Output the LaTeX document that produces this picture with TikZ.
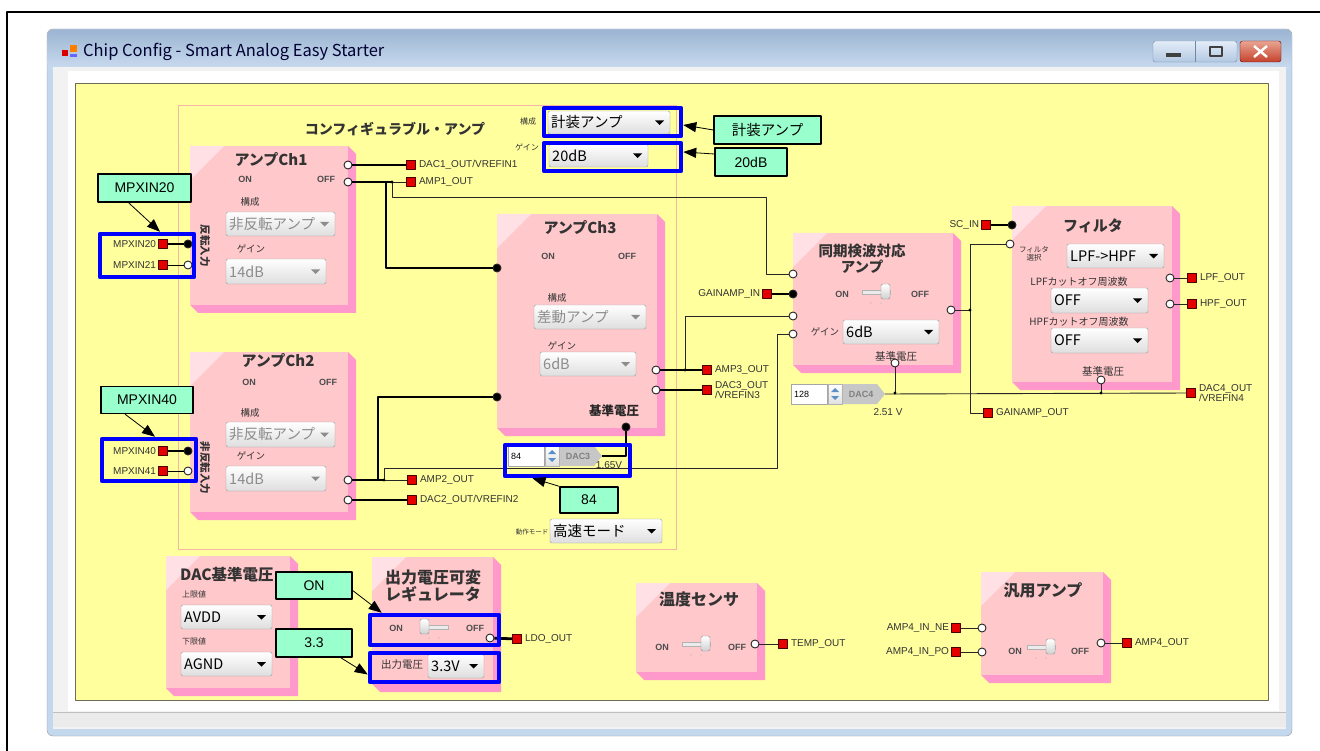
\documentclass[tikz,border=0pt]{standalone}
\usepackage{fontspec}
\setmainfont{Noto Sans CJK JP}
\newfontfamily\arial{Liberation Sans}
\usetikzlibrary{positioning,arrows.meta}
\definecolor{panel}{HTML}{FFFF9E}
\definecolor{panelline}{HTML}{6E6E55}
\definecolor{face}{HTML}{FFC8CB}
\definecolor{facehi}{HTML}{FFE0E5}
\definecolor{edge}{HTML}{FF99CC}
\definecolor{mint}{HTML}{99FFCC}
\definecolor{portred}{HTML}{E50000}
\definecolor{frame}{HTML}{C3D7ED}
\definecolor{tbtop}{HTML}{9CB5D2}
\definecolor{tbbot}{HTML}{CADCF0}
\definecolor{cfgline}{HTML}{F3B6A8}
\definecolor{btntop}{HTML}{E4EDF8}
\definecolor{btnbot}{HTML}{B3C8E2}
\definecolor{btnline}{HTML}{6F88AA}
\definecolor{cltop}{HTML}{E9A592}
\definecolor{clbot}{HTML}{C4412C}
\definecolor{spinblue}{HTML}{5B8FC9}
\newcommand{\fs}[1]{\fontsize{#1}{#1}\selectfont}
% bevelled block: x1 y1 x2 y2
\newcommand{\blok}[4]{%
  \fill[edge] (#3,#2) -- (#3+8,#2+8) -- (#3+8,#4+8) -- (#1+8,#4+8) -- (#1,#4) -- (#3,#4) -- cycle;
  \fill[face] (#1,#2) rectangle (#3,#4);
  \fill[facehi] (#1,#2) -- (#1+34,#2) -- (#1,#2+34) -- cycle;}
% drop-down: [text colour] x1 y1 x2 y2 text
\newcommand{\dd}[6][black]{%
  \shade[top color=white, bottom color=black!13, draw=black!40, rounded corners=2pt] (#2,#3) rectangle (#4,#5);
  \node[anchor=west, inner sep=0pt, text=#1, font=\fs{14.5}] at (#2+3,{(#3+#5)/2}) {#6};
  \fill[#1] (#4-15,{(#3+#5)/2-2}) -- ++(9,0) -- ++(-4.5,4.5) -- cycle;}
% spin box with DAC tag: x y value tag tipname
\newcommand{\spin}[5]{%
  \filldraw[fill=white, draw=black!35] (#1,#2) rectangle (#1+36,#2+20);
  \node[anchor=west, inner sep=0pt, font=\arial\fs{9}] at (#1+3,#2+10) {#3};
  \shade[top color=white, bottom color=black!12, draw=black!30] (#1+37,#2) rectangle (#1+51,#2+20);
  \fill[spinblue] (#1+40,#2+8) -- (#1+48,#2+8) -- (#1+44,#2+4) -- cycle (#1+40,#2+12) -- (#1+48,#2+12) -- (#1+44,#2+16) -- cycle;
  \fill[black!22] (#1+52,#2) -- (#1+86,#2) -- (#1+94,#2+10) -- (#1+86,#2+20) -- (#1+52,#2+20) -- cycle;
  \node[inner sep=0pt, font=\arial\bfseries\fs{9}, text=black!50] at (#1+70,#2+10) {#4};
  \coordinate (#5) at (#1+94,#2+10);}
% slide switch: x y knob (0 left, 1 right)
\newcommand{\swt}[3]{%
  \filldraw[fill=black!8, draw=black!30] (#1,#2-2) rectangle (#1+28,#2+2);
  \shade[top color=white, bottom color=black!18, draw=black!45, rounded corners=1.5pt] (#1+#3*19,#2-8) rectangle (#1+#3*19+9,#2+7);
  \fill[black!30] (#1+9,#2+11) circle (.7) (#1+19,#2+11) circle (.7);}
\begin{document}
\begin{tikzpicture}[x=1pt, y=-1pt, line join=round, >=stealth,
  term/.style={circle, draw=black!85, fill=white, line width=.9pt, inner sep=0pt, minimum size=8pt},
  termon/.style={term, fill=black},
  port/.style={rectangle, draw=red!30!black, fill=portred, line width=.6pt, inner sep=0pt, minimum size=9pt},
  lbl/.style={font=\arial\fs{10}, inner sep=0pt, text=black!80},
  wire/.style={draw=black!85, line width=.9pt},
  bus/.style={draw=black, line width=2.8pt},
  hilite/.style={draw=blue, line width=4.5pt, inner sep=0pt},
  tagbox/.style={draw, line width=1.3pt, fill=mint, font=\arial\fs{14}, inner sep=0pt},
  pointer/.style={line width=.8pt, -{Triangle[length=13pt,width=10pt]}},
  small/.style={font=\fs{9.5}, inner sep=0pt, text=black!80},
  blktitle/.style={font=\bfseries\fs{15}, inner sep=0pt, text=black!80},
  onoff/.style={font=\arial\bfseries\fs{9}, inner sep=0pt, text=black!70}]
\useasboundingbox (0,0) rectangle (1320,751);
\fill[white] (0,0) rectangle (1320,751);
\draw[line width=1.3pt] (7,751) -- (7,12) -- (1320,12);
% window
\filldraw[fill=frame, draw=black!40, rounded corners=6pt] (47,29) rectangle (1292,736);
\shade[top color=tbtop, bottom color=tbbot, rounded corners=6pt] (47.5,29.5) rectangle (1291.5,70);
\fill[black!5] (53,67) rectangle (1286,729);
\fill[white] (68,71) rectangle (1279,711);
\draw[black!25] (53,712) -- (1286,712);
\fill[black!8] (53,713) rectangle (1286,727);
\filldraw[fill=panel, draw=panelline, line width=1pt] (75,84) rectangle (1268,700);
\fill[red!85!black] (62,50) rectangle (68,56);
\fill[orange] (70,45) rectangle (77,52);
\fill[blue!60] (70,54) rectangle (77,57);
\node[anchor=west, inner sep=0pt, font=\fs{16.5}, text=black!80!blue] at (83,52) {Chip Config - Smart Analog Easy Starter};
\shade[top color=btntop, bottom color=btnbot, draw=btnline, rounded corners=2.5pt] (1153,41) rectangle (1237,62);
\draw[btnline] (1195,41) -- (1195,62);
\fill[black!75] (1166,53) rectangle (1181,57);
\draw[black!75, line width=1.3pt] (1210,47) rectangle (1222,56);
\shade[top color=cltop, bottom color=clbot, draw=red!40!black, rounded corners=2.5pt] (1240,41) rectangle (1281,62);
\draw[white, line width=2.4pt] (1254,46) -- (1267,57) (1254,57) -- (1267,46);
% configurable amp
\draw[cfgline, line width=1pt] (178,106) rectangle (676,549);
\node[blktitle, font=\bfseries\fs{14}] at (395,129) {コンフィギュラブル・アンプ};
\node[small, font=\fs{8}] at (528,121) {構成};
\dd{548}{111}{670}{134}{計装アンプ}
\node[small, font=\fs{8}] at (527,147) {ゲイン};
\dd{549}{144}{648}{167}{20dB}
\node[small, font=\fs{6.5}] at (532,532) {動作モード};
\dd{550}{519}{662}{543}{高速モード}
% blocks
\blok{190}{146}{348}{305}
\blok{190}{352}{348}{512}
\blok{497}{214}{657}{428}
\blok{793}{233}{953}{365}
\blok{1012}{206}{1172}{382}
\blok{166}{556}{290}{688}
\blok{372}{557}{493}{684}
\blok{636}{583}{757}{672}
\blok{981}{572}{1103}{675}
% Ch1
\node[blktitle] at (271,160) {アンプCh1};
\node[onoff] at (245,179) {ON};
\node[onoff] at (326,179) {OFF};
\node[small] at (250,202) {構成};
\dd[black!45]{226}{212}{335}{236}{非反転アンプ}
\node[small] at (251,249) {ゲイン};
\dd[black!45]{226}{259}{326}{284}{14dB}
\node[small, font=\bfseries\fs{10.5}, rotate=-90] at (205,246) {反転入力};
% Ch2
\node[blktitle] at (278,361) {アンプCh2};
\node[onoff] at (249,382) {ON};
\node[onoff] at (328,382) {OFF};
\node[small] at (250,413) {構成};
\dd[black!45]{226}{422}{335}{447}{非反転アンプ}
\node[small] at (251,456) {ゲイン};
\dd[black!45]{226}{466}{326}{491}{14dB}
\node[small, font=\bfseries\fs{10.5}, rotate=-90] at (205,468) {非反転入力};
% Ch3
\node[blktitle] at (580,228) {アンプCh3};
\node[onoff] at (548,256) {ON};
\node[onoff] at (627,256) {OFF};
\node[small] at (557,298) {構成};
\dd[black!45]{534}{305}{646}{329}{差動アンプ}
\node[small] at (562,346) {ゲイン};
\dd[black!45]{540}{352}{636}{376}{6dB}
\node[small, font=\bfseries\fs{12.5}, text=black!85] at (614,411) {基準電圧};
\spin{508}{446}{84}{DAC3}{d3tip}
\node[lbl] at (609,465) {1.65V};
% synchronous detection amp
\node[blktitle, font=\bfseries\fs{14.5}] at (862,251) {同期検波対応};
\node[blktitle, font=\bfseries\fs{14.5}] at (862,267) {アンプ};
\node[onoff] at (842,294) {ON};
\swt{862}{292}{1}
\node[onoff] at (920,294) {OFF};
\node[small] at (825,332) {ゲイン};
\dd{843}{320}{939}{344}{6dB}
\node[small, font=\fs{10.5}] at (896,356) {基準電圧};
\spin{791}{384}{128}{DAC4}{d4tip}
\node[lbl] at (888,412) {2.51 V};
% filter
\node[blktitle] at (1093,226) {フィルタ};
\node[small, font=\fs{7.5}, align=center] at (1034,254) {フィルタ\\選択};
\dd{1067}{244}{1164}{268}{LPF->HPF}
\node[small, font=\fs{10}] at (1079,282) {LPFカットオフ周波数};
\dd{1051}{288}{1148}{313}{OFF}
\node[small, font=\fs{10}] at (1079,322) {HPFカットオフ周波数};
\dd{1051}{328}{1148}{353}{OFF}
\node[small, font=\fs{10.5}] at (1103,371) {基準電圧};
% DAC reference
\node[blktitle, anchor=west, font=\bfseries\fs{15.5}] at (180,575) {DAC基準電圧};
\node[small, font=\fs{8}, anchor=west] at (182,594) {上限値};
\dd{181}{605}{272}{629}{AVDD}
\node[small, font=\fs{8}, anchor=west] at (182,641) {下限値};
\dd{181}{652}{272}{676}{AGND}
% regulator
\node[blktitle, font=\bfseries\fs{16}] at (433,577) {出力電圧可変};
\node[blktitle, font=\bfseries\fs{16}] at (433,594) {レギュレータ};
\node[onoff] at (396,628) {ON};
\swt{420}{627}{0}
\node[onoff] at (475,628) {OFF};
\node[small, font=\fs{10.5}] at (402,665) {出力電圧};
\dd{428}{654}{484}{678}{3.3V}
% temperature sensor
\node[blktitle, font=\bfseries\fs{16}] at (699,599) {温度センサ};
\node[onoff] at (662,647) {ON};
\swt{682}{644}{1}
\node[onoff] at (737,647) {OFF};
% general amp
\node[blktitle, font=\bfseries\fs{16}] at (1043,590) {汎用アンプ};
\node[onoff] at (1015,651) {ON};
\swt{1027}{647}{1}
\node[onoff] at (1080,651) {OFF};
% terminals and pins
\foreach \n/\y/\f/\lw in {20/244/black/2.8pt, 21/265/white/.9pt, 40/451/black/2.8pt, 41/471/white/.9pt}{
  \node[port] (pm\n) at (163,\y) {};
  \node[term, fill=\f] (tm\n) at (188,\y) {};
  \node[lbl, left=2pt of pm\n] {MPXIN\n};
  \draw[wire, draw=black, line width=\lw] (pm\n) -- (tm\n);}
\node[term] (c1a) at (348,165) {};
\node[term] (c1b) at (348,182) {};
\node[port] (pd1) at (411,165) {};
\node[port] (pa1) at (411,182) {};
\node[lbl, right=3pt of pd1] {DAC1\_OUT/VREFIN1};
\node[lbl, right=3pt of pa1] {AMP1\_OUT};
\node[term] (c2a) at (348,480) {};
\node[term] (c2b) at (348,500) {};
\node[port] (pa2) at (412,480) {};
\node[port] (pd2) at (412,500) {};
\node[lbl, right=3pt of pa2] {AMP2\_OUT};
\node[lbl, right=3pt of pd2] {DAC2\_OUT/VREFIN2};
\node[termon] (c3a) at (497,268) {};
\node[termon] (c3b) at (497,397) {};
\node[termon] (c3r) at (626,427) {};
\node[term] (c3o) at (656,370) {};
\node[term] (c3d) at (656,390) {};
\node[port] (pa3) at (707,370) {};
\node[port] (pd3) at (707,390) {};
\node[lbl, right=3pt of pa3] {AMP3\_OUT};
\node[lbl, right=3pt of pd3, align=left, font={\arial\fontsize{10}{8}\selectfont}] {DAC3\_OUT\\/VREFIN3};
\node[term] (s1) at (793,274) {};
\node[termon] (s2) at (793,294) {};
\node[term] (s3) at (793,316) {};
\node[term] (s4) at (793,334) {};
\node[port] (pgi) at (767,294) {};
\node[lbl, left=2pt of pgi] {GAINAMP\_IN};
\node[term] (so) at (951,310) {};
\node[term] (sr) at (895,363) {};
\node[termon] (fsc) at (1012,225) {};
\node[port] (psc) at (986,225) {};
\node[lbl, left=2pt of psc] {SC\_IN};
\node[term] (fi) at (1010,244) {};
\node[term] (fl) at (1170,278) {};
\node[term] (fh) at (1170,304) {};
\node[port] (pl) at (1192,278) {};
\node[port] (ph) at (1192,304) {};
\node[lbl, right=3pt of pl] {LPF\_OUT};
\node[lbl, right=3pt of ph] {HPF\_OUT};
\node[term] (fr) at (1101,380) {};
\node[port] (pd4) at (1191,393) {};
\node[lbl, right=3pt of pd4, align=left, font={\arial\fontsize{10}{8}\selectfont}] {DAC4\_OUT\\/VREFIN4};
\node[port] (pgo) at (988,413) {};
\node[lbl, right=3pt of pgo] {GAINAMP\_OUT};
\node[term] (ro) at (490,638) {};
\node[port] (pldo) at (517,639) {};
\node[lbl, right=3pt of pldo] {LDO\_OUT};
\node[term] (to) at (755,644) {};
\node[port] (ptm) at (783,644) {};
\node[lbl, right=3pt of ptm] {TEMP\_OUT};
\node[term] (ai1) at (982,628) {};
\node[term] (ai2) at (982,652) {};
\node[port] (pne) at (956,628) {};
\node[port] (ppo) at (956,652) {};
\node[lbl, left=2pt of pne] {AMP4\_IN\_NE};
\node[lbl, left=2pt of ppo] {AMP4\_IN\_PO};
\node[term] (ao) at (1101,643) {};
\node[port] (pa4) at (1127,643) {};
\node[lbl, right=3pt of pa4] {AMP4\_OUT};
% wiring
\coordinate (j1) at (386,182);
\coordinate (j2) at (392,182);
\coordinate (j3) at (378,480);
\coordinate (j4) at (384,480);
\coordinate (j5) at (685,370);
\coordinate (j6) at (970,310);
\coordinate (j7) at (970,413);
\coordinate (j8) at (895,393);
\coordinate (j9) at (1101,393);
\coordinate (k1) at (766,197);
\coordinate (k2) at (777,468);
\draw[bus] (c1a) -- (pd1);
\draw[bus] (c1b) -- (j2);
\draw[wire] (j2) -- (pa1);
\draw[bus] (j1) |- (c3a);
\draw[wire] (j2) |- (k1) |- (s1);
\draw[bus] (c2b) -- (pd2);
\draw[bus] (c2a) -- (j4);
\draw[wire] (j4) -- (pa2);
\draw[bus] (j3) |- (c3b);
\draw[wire] (j4) |- (k2) |- (s4);
\draw[bus] (c3o) -- (pa3);
\draw[bus] (c3d) -- (pd3);
\draw[wire] (j5) |- (s3);
\draw[bus] (c3r) |- (d3tip);
\draw[bus] (pgi) -- (s2);
\draw[wire] (d4tip) -- (pd4);
\draw[wire] (sr) -- (j8);
\draw[wire] (fr) -- (j9);
\draw[wire] (so) -- (j6);
\draw[wire] (fi) -| (j7) -- (pgo);
\draw[bus] (psc) -- (fsc);
\draw[wire] (fl) -- (pl);
\draw[wire] (fh) -- (ph);
\draw[bus] (ro) -- (pldo);
\draw[wire] (to) -- (ptm);
\draw[wire] (pne) -- (ai1);
\draw[wire] (ppo) -- (ai2);
\draw[wire] (ao) -- (pa4);
\foreach \j in {j2,j4,j5,j6,j8,j9} \fill (\j) circle (1.7);
% highlights and callouts
\node[hilite, minimum width=137pt, minimum height=28pt] (hkz) at (612.5,122) {};
\node[hilite, minimum width=137pt, minimum height=28pt] (h20) at (612.5,157) {};
\node[hilite, minimum width=94pt, minimum height=43pt] (hm2) at (147,255.5) {};
\node[hilite, minimum width=94pt, minimum height=42pt] (hm4) at (149,460) {};
\node[hilite, minimum width=125pt, minimum height=31pt] (h84) at (567.5,460.5) {};
\node[hilite, minimum width=129pt, minimum height=30pt] (hon) at (434.5,630) {};
\node[hilite, minimum width=129pt, minimum height=29pt] (h33) at (434.5,667.5) {};
\node[tagbox, minimum width=107pt, minimum height=28pt, font=\fs{14.5}] (ckz) at (767.5,130) {計装アンプ};
\node[tagbox, minimum width=72pt, minimum height=28pt] (c20) at (751,162) {20dB};
\node[tagbox, minimum width=93pt, minimum height=28pt] (cm20) at (144.5,188) {MPXIN20};
\node[tagbox, minimum width=92pt, minimum height=27pt] (cm40) at (147,400) {MPXIN40};
\node[tagbox, minimum width=58pt, minimum height=26pt] (c84) at (589,500) {84};
\node[tagbox, minimum width=76pt, minimum height=27pt] (con) at (314,585.5) {ON};
\node[tagbox, minimum width=76pt, minimum height=28pt] (c33) at (314,643) {3.3};
\draw[pointer] (ckz.west) -- ([yshift=-3pt]hkz.east);
\draw[pointer] ([yshift=8pt]c20.west) -- ([yshift=5pt]h20.east);
\draw[pointer] ([xshift=-16pt]cm20.south) -- ([xshift=13pt]hm2.north);
\draw[pointer] ([xshift=-22pt]cm40.south) -- ([xshift=6pt]hm4.north);
\draw[pointer] (c84.north west) -- ([xshift=-35pt]h84.south);
\draw[pointer] ([yshift=-5pt]con.east) -- ([xshift=14pt]hon.north west);
\draw[pointer] ([xshift=-12pt]c33.south east) -- ([yshift=-7pt]h33.west);
\end{tikzpicture}
\end{document}
